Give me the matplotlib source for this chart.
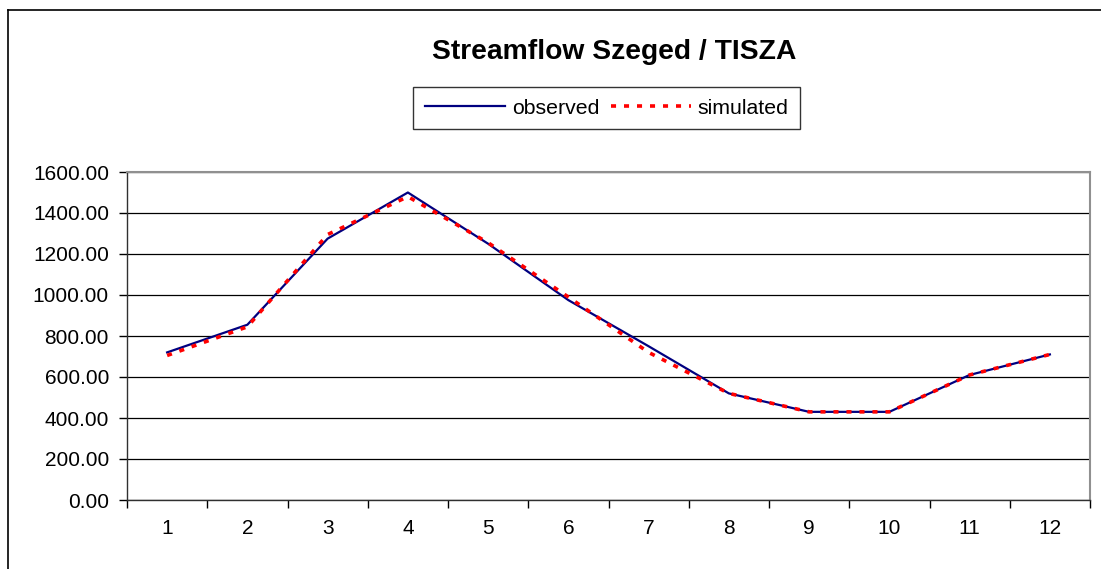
import numpy as np
import matplotlib
matplotlib.use('Agg')
import matplotlib.pyplot as plt
from matplotlib.lines import Line2D

plt.rcParams['font.family'] = ['Liberation Sans', 'DejaVu Sans']

# data
months = [1, 2, 3, 4, 5, 6, 7, 8, 9, 10, 11, 12]
observed = [720, 855, 1275, 1500, 1250, 975, 750, 520, 430, 430, 610, 710]
simulated = [705, 845, 1295, 1480, 1255, 990, 720, 520, 430, 430, 610, 710]
yticks = [0, 200, 400, 600, 800, 1000, 1200, 1400, 1600]

fig = plt.figure(figsize=(11.01, 5.69), dpi=100)
ax = fig.add_axes([127/1101, 1-500/569, 963/1101, 328/569])

ax.plot(months, observed, color='#000080', lw=1.6, label='observed', zorder=3)
ax.plot(months, simulated, color='#ff0000', lw=2.6, ls=(0, (1.4, 2.2)),
        label='simulated', zorder=4)

ax.set_xlim(0.5, 12.5)
ax.set_ylim(0, 1600)
ax.set_yticks(yticks)
ax.set_yticklabels(['%.2f' % v for v in yticks], fontsize=15)
ax.tick_params(axis='y', direction='out', length=6, width=1, pad=7)

# category axis: ticks between categories, labels at centers
ax.set_xticks(np.arange(0.5, 13, 1))
ax.set_xticklabels([])
ax.set_xticks(months, minor=True)
ax.set_xticklabels([str(m) for m in months], minor=True, fontsize=15)
ax.tick_params(axis='x', which='major', direction='out', length=6, width=1)
ax.tick_params(axis='x', which='minor', length=0, pad=14)

ax.yaxis.grid(True, color='black', lw=0.9)
ax.set_axisbelow(True)
for s in ['top', 'right']:
    ax.spines[s].set_color('#909090')
    ax.spines[s].set_linewidth(1.5)
for s in ['left', 'bottom']:
    ax.spines[s].set_color('#303030')
    ax.spines[s].set_linewidth(1)

fig.text(0.558, 0.909, 'Streamflow Szeged / TISZA', fontsize=20.3,
         fontweight='bold', ha='center', va='center')

leg = fig.legend(loc='center', bbox_to_anchor=(0.551, 0.81), ncol=2,
                 fontsize=15.3, frameon=True, fancybox=False, edgecolor='black',
                 handlelength=3.8, handletextpad=0.3, columnspacing=0.55,
                 borderpad=0.55, borderaxespad=0)
leg.get_frame().set_linewidth(1)

# outer chart border
fig.add_artist(Line2D([8/1101, 8/1101], [0, 1-10/569], transform=fig.transFigure,
                      color='black', lw=1.2))
fig.add_artist(Line2D([8/1101, 1], [1-10/569, 1-10/569], transform=fig.transFigure,
                      color='black', lw=1.2))

fig.savefig('out.png', dpi=100)
